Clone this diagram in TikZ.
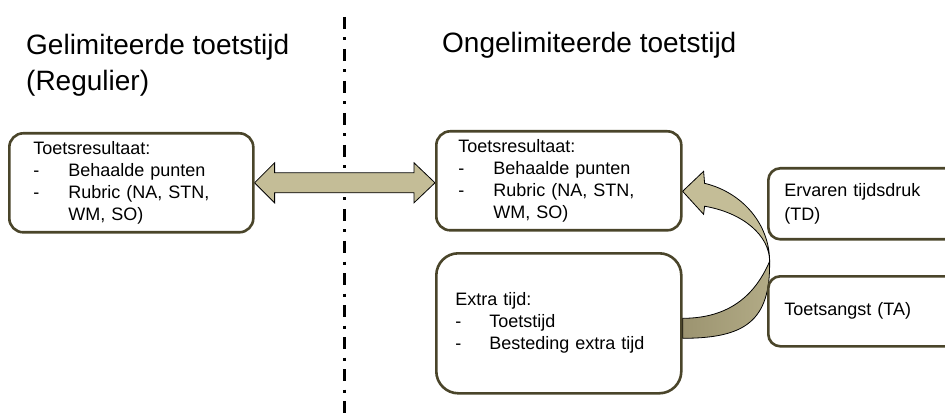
\documentclass[tikz,border=0pt]{standalone}
\usepackage{fontspec}
\setmainfont{Liberation Sans}
\usetikzlibrary{calc}
\definecolor{boxline}{HTML}{4A452A}
\definecolor{tanfill}{HTML}{C4BD97}
\definecolor{tandarkA}{HTML}{9C9470}
\definecolor{tandarkB}{HTML}{B2AB86}
\pgfdeclarelayer{bg}
\pgfsetlayers{bg,main}
\begin{document}
\begin{tikzpicture}[x=1pt,y=-1pt,
  box/.style={draw=boxline, line width=2.6pt, fill=white, rounded corners=#1,
    inner ysep=0pt, anchor=north west, align=left,
    font=\fontsize{18}{22}\selectfont},
  box/.default=14pt,
  title/.style={anchor=base west, inner sep=0pt, font=\fontsize{28}{36}\selectfont},
  fatarrow/.style={draw=black, line width=0.8pt, fill=tanfill, line join=miter},
  darkface/.style={draw=black, line width=0.8pt, left color=tandarkA, right color=tandarkB},
  divider/.style={line width=3pt, dash pattern=on 12pt off 8.5pt on 3pt off 8.5pt}
]
\useasboundingbox (0,0) rectangle (945,414);
\clip (0,0) rectangle (945,414);

% titles
\node[title] (t1) at (26,55) {\begin{tabular}[t]{@{}l@{}}Gelimiteerde toetstijd\\(Regulier)\end{tabular}};
\node[title] (t2) at (442,53) {Ongelimiteerde toetstijd};

% boxes
\node[box, minimum width=244, minimum height=99, inner xsep=24pt, text width=196pt] (L) at (8,132)
  {Toetsresultaat:\\
   \makebox[35pt][l]{-}Behaalde punten\\
   \makebox[35pt][l]{-}Rubric (NA, STN,\\
   \hspace*{35pt}WM, SO)};
\node[box, minimum width=245, minimum height=99, inner xsep=22pt, text width=201pt] (M) at (435,130)
  {Toetsresultaat:\\
   \makebox[35pt][l]{-}Behaalde punten\\
   \makebox[35pt][l]{-}Rubric (NA, STN,\\
   \hspace*{35pt}WM, SO)};
\node[box=22pt, minimum width=245, minimum height=140, inner xsep=19pt, text width=207pt] (X) at (435,252)
  {Extra tijd:\\
   \makebox[34pt][l]{-}Toetstijd\\
   \makebox[34pt][l]{-}Besteding extra tijd};
\node[box=12pt, minimum width=200, minimum height=71, inner xsep=16pt, text width=168pt,
  font=\fontsize{18}{24}\selectfont] (E) at (767,167)
  {Ervaren tijdsdruk\\(TD)};
\node[box=12pt, minimum width=200, minimum height=70, inner xsep=16pt, text width=168pt] (T) at (767,275)
  {Toetsangst (TA)};

\begin{pgfonlayer}{bg}
  % divider
  \coordinate (d1) at (344,17);
  \coordinate (d2) at (344,420);
  \draw[divider] (d1) -- (d2);

  % double arrow between the two result boxes
  \coordinate (dl) at (L.east);
  \coordinate (dr) at (M.west |- L.east);
  \draw[fatarrow] (dl) -- ++(20,-20) -- ++(0,10) -- ($(dr)+(-21,-10)$) -- ++(0,-10)
    -- (dr) -- ++(-21,20) -- ++(0,-10) -- ($(dl)+(20,10)$) -- ++(0,10) -- cycle;

  % curved arrow from Extra tijd to Toetsresultaat
  \coordinate (cc) at ($(X.east)+(0,-62)$);
  \draw[darkface] ($(cc)+(87,0)$)
      .. controls ($(cc)+(88,60)$) and ($(cc)+(62,77)$) .. ($(cc)+(0,77)$)
    -- ($(cc)+(0,57)$)
      .. controls ($(cc)+(40,57)$) and ($(cc)+(70,40)$) .. ($(cc)+(87,0)$) -- cycle;
  \draw[fatarrow] ($(cc)+(22,-78)$)
    arc[start angle=75.35, end angle=0, x radius=87pt, y radius=80.6pt]
    arc[start angle=0, end angle=75.35, x radius=87pt, y radius=56.9pt]
    -- ($(cc)+(21,-47)$) -- ($(M.east)+(0,10.5)$) -- ($(cc)+(21,-90)$) -- cycle;
\end{pgfonlayer}
\end{tikzpicture}
\end{document}
